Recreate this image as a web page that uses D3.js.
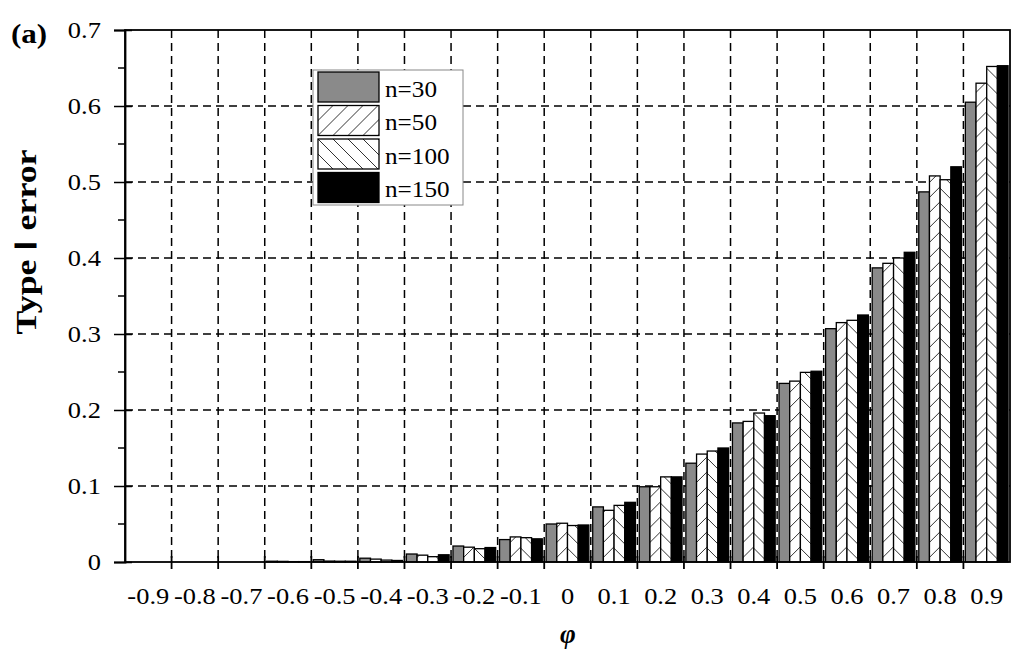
<!DOCTYPE html>
<html lang="en">
<head>
  <meta charset="UTF-8" />
  <title>Type I error</title>
  <script src="https://d3js.org/d3.v7.min.js"></script>
  <style>
    body {
      margin: 0;
      background: #fff;
    }
    svg {
      display: block;
      font-family: "Liberation Serif", "Times New Roman", serif;
    }
    .tick text {
      font-family: "Liberation Serif", "Times New Roman", serif;
      font-size: 23px;
      fill: #000;
    }
  </style>
</head>
<body>
  <svg id="chart" width="1024" height="665"></svg>

  <script>
    const categories = ["-0.9", "-0.8", "-0.7", "-0.6", "-0.5", "-0.4", "-0.3", "-0.2", "-0.1", "0",
      "0.1", "0.2", "0.3", "0.4", "0.5", "0.6", "0.7", "0.8", "0.9"];
    const seriesNames = ["n=30", "n=50", "n=100", "n=150"];
    const n30 = [0, 0, 0, 0.001, 0.003, 0.005, 0.0105, 0.021, 0.0295, 0.050, 0.0725, 0.099, 0.130, 0.183, 0.235, 0.307, 0.387, 0.487, 0.605];
    const n50 = [0, 0, 0, 0.0008, 0.0012, 0.0038, 0.009, 0.0195, 0.033, 0.051, 0.068, 0.099, 0.142, 0.185, 0.238, 0.315, 0.393, 0.508, 0.630];
    const n100 = [0, 0, 0, 0.0005, 0.001, 0.0025, 0.007, 0.0175, 0.032, 0.048, 0.0745, 0.112, 0.146, 0.196, 0.2495, 0.318, 0.400, 0.503, 0.652];
    const n150 = [0, 0, 0, 0.0005, 0.001, 0.002, 0.0095, 0.019, 0.0305, 0.0487, 0.0785, 0.112, 0.150, 0.1925, 0.251, 0.325, 0.4075, 0.520, 0.653];
    const yTicks = [0, 0.1, 0.2, 0.3, 0.4, 0.5, 0.6, 0.7];
    const yMinorTicks = [0.05, 0.15, 0.25, 0.35, 0.45, 0.55, 0.65];

    const values = [n30, n50, n100, n150];
    const fills = ["#8a8a8a", "url(#hatch-up)", "url(#hatch-down)", "#000"];

    const plotLeft = 125, plotRight = 1010, plotTop = 30, plotBottom = 562;
    const svg = d3.select("#chart");

    const x = d3.scaleBand().domain(categories).range([plotLeft, plotRight]);
    const xs = d3.scaleBand().domain(seriesNames).range([0, x.bandwidth()]).paddingOuter(0.18);
    const y = d3.scaleLinear().domain([0, 0.7]).range([plotBottom, plotTop]);

    // hatch patterns
    const defs = svg.append("defs");
    function hatch(id, d) {
      const p = defs.append("pattern")
        .attr("id", id)
        .attr("patternUnits", "userSpaceOnUse")
        .attr("width", 15)
        .attr("height", 15);
      p.append("rect").attr("width", 15).attr("height", 15).attr("fill", "#fff");
      p.append("path").attr("d", d).attr("stroke", "#333").attr("stroke-width", 1);
    }
    hatch("hatch-up", "M0,15 L15,0 M-4,4 L4,-4 M11,19 L19,11");
    hatch("hatch-down", "M0,0 L15,15 M-4,11 L4,19 M11,-4 L19,4");

    // grid
    const grid = svg.append("g")
      .attr("stroke", "#000")
      .attr("stroke-width", 1.5)
      .attr("stroke-dasharray", "8,5");
    grid.selectAll(".vg")
      .data(categories.slice(1))
      .join("line")
      .attr("class", "vg")
      .attr("x1", d => x(d)).attr("x2", d => x(d))
      .attr("y1", plotTop).attr("y2", plotBottom);
    grid.selectAll(".hg")
      .data(yTicks.slice(1, -1))
      .join("line")
      .attr("class", "hg")
      .attr("x1", plotLeft).attr("x2", plotRight)
      .attr("y1", d => y(d)).attr("y2", d => y(d));

    // bars
    const groups = svg.append("g")
      .selectAll("g")
      .data(categories)
      .join("g")
      .attr("transform", d => `translate(${x(d)},0)`);
    groups.selectAll("rect")
      .data((c, i) => seriesNames.map((s, k) => ({ s, k, v: values[k][i] })))
      .join("rect")
      .attr("x", d => xs(d.s))
      .attr("width", xs.bandwidth())
      .attr("y", d => y(d.v))
      .attr("height", d => y(0) - y(d.v))
      .attr("fill", d => fills[d.k])
      .attr("stroke", "#000")
      .attr("stroke-width", 1.3);

    // frame
    svg.append("rect")
      .attr("x", plotLeft).attr("y", plotTop)
      .attr("width", plotRight - plotLeft).attr("height", plotBottom - plotTop)
      .attr("fill", "none")
      .attr("stroke", "#000")
      .attr("stroke-width", 1.8);

    // y axis
    const yAxis = svg.append("g")
      .attr("transform", `translate(${plotLeft},0)`)
      .call(d3.axisLeft(y).tickValues(yTicks).tickSize(11).tickPadding(10)
        .tickFormat(d => d === 0 ? "0" : d3.format(".1f")(d)));
    yAxis.attr("font-family", null);
    yAxis.select(".domain").attr("stroke-width", 1.8);
    yAxis.selectAll(".tick line").attr("x2", 7).attr("x1", -11).attr("stroke-width", 1.5);
    yAxis.selectAll(".tick text").attr("transform", "scale(1.15,1)").attr("dy", "0.34em");
    svg.append("g")
      .selectAll("line")
      .data(yMinorTicks)
      .join("line")
      .attr("x1", plotLeft - 7).attr("x2", plotLeft)
      .attr("y1", d => y(d)).attr("y2", d => y(d))
      .attr("stroke", "#000")
      .attr("stroke-width", 1.5);

    // x axis: labels in band centres, ticks on band edges
    const xAxis = svg.append("g")
      .attr("transform", `translate(0,${plotBottom})`)
      .call(d3.axisBottom(x).tickSize(0).tickPadding(26));
    xAxis.attr("font-family", null);
    xAxis.select(".domain").remove();
    xAxis.selectAll(".tick text").attr("transform", "scale(1.15,1)");
    svg.append("g")
      .selectAll("line")
      .data(categories.slice(1))
      .join("line")
      .attr("x1", d => x(d)).attr("x2", d => x(d))
      .attr("y1", plotBottom - 6).attr("y2", plotBottom + 7)
      .attr("stroke", "#000")
      .attr("stroke-width", 1.8);

    // legend
    const legend = svg.append("g");
    legend.append("rect")
      .attr("x", 313).attr("y", 70)
      .attr("width", 150).attr("height", 135)
      .attr("fill", "#fff")
      .attr("stroke", "#888")
      .attr("stroke-width", 1);
    const rows = legend.selectAll(".row")
      .data(seriesNames)
      .join("g")
      .attr("class", "row")
      .attr("transform", (d, i) => `translate(318,${72 + i * 33.5})`);
    rows.append("rect")
      .attr("width", 61).attr("height", 30)
      .attr("fill", (d, i) => fills[i])
      .attr("stroke", "#000")
      .attr("stroke-width", 1.3);
    rows.append("text")
      .attr("x", 67).attr("y", 25)
      .attr("font-size", 24)
      .attr("transform", "translate(67,0) scale(1.05,1) translate(-67,0)")
      .text(d => d);

    // titles
    svg.append("text")
      .attr("transform", "translate(36,242) rotate(-90)")
      .attr("text-anchor", "middle")
      .attr("font-size", 29)
      .attr("font-weight", "bold")
      .attr("textLength", 185)
      .attr("lengthAdjust", "spacingAndGlyphs")
      .text("Type Ⅰ error");
    svg.append("text")
      .attr("x", 568).attr("y", 643)
      .attr("text-anchor", "middle")
      .attr("font-size", 27)
      .attr("font-weight", "bold")
      .attr("font-style", "italic")
      .text("φ");
    svg.append("text")
      .attr("transform", "translate(11,43) scale(1.15,1)")
      .attr("font-size", 27)
      .attr("font-weight", "bold")
      .text("(a)");
  </script>
</body>
</html>
